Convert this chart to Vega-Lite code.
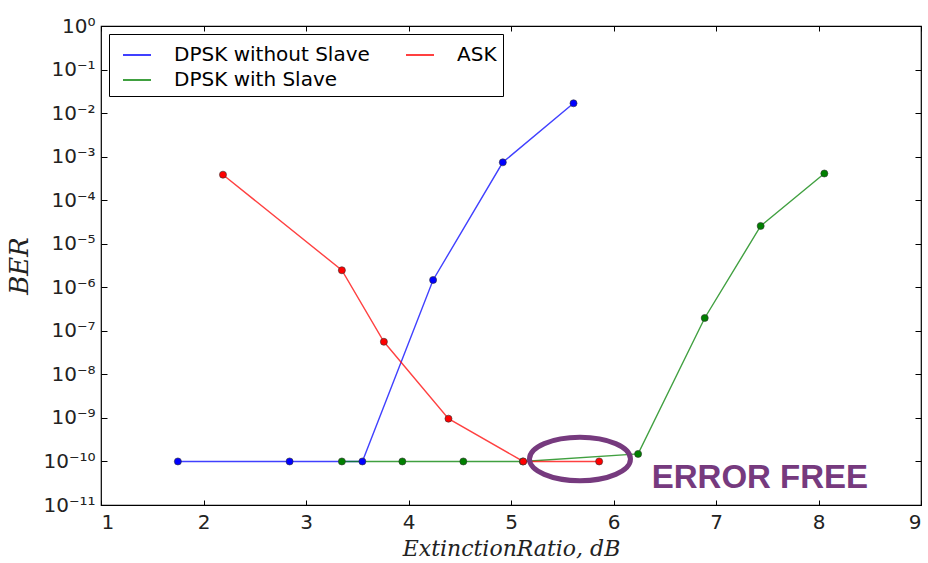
{
  "$schema": "https://vega.github.io/schema/vega-lite/v6.json",
  "width": 820,
  "height": 479,
  "autosize": "none",
  "padding": {"left": 101, "top": 26, "right": 7, "bottom": 58},
  "background": "white",
  "datasets": {
    "ber": [
      {"series": "DPSK without Slave", "er": 1.75, "ber": 1e-10},
      {"series": "DPSK without Slave", "er": 2.84, "ber": 1e-10},
      {"series": "DPSK without Slave", "er": 3.55, "ber": 1e-10},
      {"series": "DPSK without Slave", "er": 4.24, "ber": 1.47e-6},
      {"series": "DPSK without Slave", "er": 4.92, "ber": 7.4e-4},
      {"series": "DPSK without Slave", "er": 5.61, "ber": 1.68e-2},
      {"series": "DPSK with Slave", "er": 3.35, "ber": 1e-10},
      {"series": "DPSK with Slave", "er": 3.94, "ber": 1e-10},
      {"series": "DPSK with Slave", "er": 4.535, "ber": 1e-10},
      {"series": "DPSK with Slave", "er": 5.115, "ber": 1e-10},
      {"series": "DPSK with Slave", "er": 6.24, "ber": 1.49e-10},
      {"series": "DPSK with Slave", "er": 6.89, "ber": 1.97e-7},
      {"series": "DPSK with Slave", "er": 7.436, "ber": 2.56e-5},
      {"series": "DPSK with Slave", "er": 8.057, "ber": 4.1e-4},
      {"series": "ASK", "er": 2.19, "ber": 3.85e-4},
      {"series": "ASK", "er": 3.35, "ber": 2.46e-6},
      {"series": "ASK", "er": 3.76, "ber": 5.6e-8},
      {"series": "ASK", "er": 4.39, "ber": 9.6e-10},
      {"series": "ASK", "er": 5.12, "ber": 1e-10},
      {"series": "ASK", "er": 5.86, "ber": 1e-10}
    ],
    "ellipse": [{"er": 5.673, "ber": 1.14e-10}],
    "note": [{"er": 6.373, "ber": 2.47e-11, "label": "ERROR FREE"}]
  },
  "resolve": {"axis": {"x": "independent", "y": "independent"}},
  "layer": [
    {
      "data": {"name": "ber"},
      "mark": {"type": "line", "strokeWidth": 1.4, "strokeOpacity": 0.75},
      "encoding": {
        "x": {"field": "er", "type": "quantitative",
          "scale": {"domain": [1, 9], "nice": false, "zero": false},
          "axis": {"orient": "bottom", "values": [1,2,3,4,5,6,7,8,9], "title": "ExtinctionRatio, dB",
            "labelFontSize": 20, "labelPadding": 12, "tickSize": -5, "titleFont": "DejaVu Serif",
            "titleFontStyle": "italic", "titleFontWeight": "normal", "titleFontSize": 22, "titlePadding": 6}},
        "y": {"field": "ber", "type": "quantitative",
          "scale": {"type": "log", "domain": [1e-11, 1], "nice": false},
          "axis": {"orient": "left", "values": [1,0.1,0.01,0.001,0.0001,0.00001,0.000001,1e-7,1e-8,1e-9,1e-10,1e-11],
            "labelExpr": "['10⁰','10⁻¹','10⁻²','10⁻³','10⁻⁴','10⁻⁵','10⁻⁶','10⁻⁷','10⁻⁸','10⁻⁹','10⁻¹⁰','10⁻¹¹'][round(-log(datum.value)/LN10)]",
            "title": "BER", "labelFontSize": 20, "labelPadding": 12, "tickSize": -6,
            "titleFont": "DejaVu Serif", "titleFontStyle": "italic", "titleFontWeight": "normal",
            "titleFontSize": 26, "titlePadding": 10}},
        "color": {"field": "series", "type": "nominal",
          "scale": {"domain": ["DPSK without Slave", "ASK", "DPSK with Slave"], "range": ["#0000ff", "#ff0000", "#008000"]},
          "legend": {"title": null, "orient": "top-left", "offset": 8, "columns": 2, "direction": "horizontal",
            "symbolType": "stroke", "symbolSize": 784, "symbolStrokeWidth": 1.5,
            "labelFont": "DejaVu Sans", "labelFontSize": 20, "labelColor": "black", "labelOffset": 22, "labelLimit": 400,
            "columnPadding": 28, "rowPadding": 0, "symbolOffset": 7, "padding": 6,
            "strokeColor": "black", "fillColor": "white"}}
      }
    },
    {
      "data": {"name": "ber"},
      "mark": {"type": "point", "filled": true, "size": 50, "stroke": "#333333", "strokeWidth": 0.6, "opacity": 1},
      "encoding": {
        "x": {"field": "er", "type": "quantitative", "scale": {"domain": [1, 9], "nice": false, "zero": false}, "axis": null},
        "y": {"field": "ber", "type": "quantitative", "scale": {"type": "log", "domain": [1e-11, 1], "nice": false}, "axis": null},
        "fill": {"field": "series", "type": "nominal",
          "scale": {"domain": ["DPSK without Slave", "ASK", "DPSK with Slave"], "range": ["#0000ff", "#ff0000", "#008000"]},
          "legend": null}
      }
    },
    {
      "data": {"name": "ellipse"},
      "mark": {"type": "point", "filled": false, "shape": "M-1,0 A1,0.43 0 1,1 1,0 A1,0.43 0 1,1 -1,0 Z",
        "size": 10201, "stroke": "#763a7e", "strokeWidth": 5, "opacity": 1},
      "encoding": {
        "x": {"field": "er", "type": "quantitative", "scale": {"domain": [1, 9], "nice": false, "zero": false},
          "axis": {"orient": "top", "values": [1,2,3,4,5,6,7,8,9], "labels": false, "title": null, "tickSize": -5}},
        "y": {"field": "ber", "type": "quantitative", "scale": {"type": "log", "domain": [1e-11, 1], "nice": false},
          "axis": {"orient": "right", "values": [1,0.1,0.01,0.001,0.0001,0.00001,0.000001,1e-7,1e-8,1e-9,1e-10,1e-11],
            "labels": false, "title": null, "tickSize": -6}}
      }
    },
    {
      "data": {"name": "note"},
      "mark": {"type": "text", "align": "left", "baseline": "alphabetic", "font": "Liberation Sans",
        "fontWeight": "bold", "fontSize": 33, "color": "#763a7e"},
      "encoding": {
        "x": {"field": "er", "type": "quantitative", "scale": {"domain": [1, 9], "nice": false, "zero": false}, "axis": null},
        "y": {"field": "ber", "type": "quantitative", "scale": {"type": "log", "domain": [1e-11, 1], "nice": false}, "axis": null},
        "text": {"field": "label", "type": "nominal"}
      }
    }
  ],
  "config": {
    "view": {"stroke": "black", "strokeWidth": 1.2},
    "axis": {"domain": false, "grid": false, "tickColor": "black", "tickWidth": 1, "labelColor": "#222222",
      "labelFont": "DejaVu Sans", "titleColor": "#222222"}
  }
}
